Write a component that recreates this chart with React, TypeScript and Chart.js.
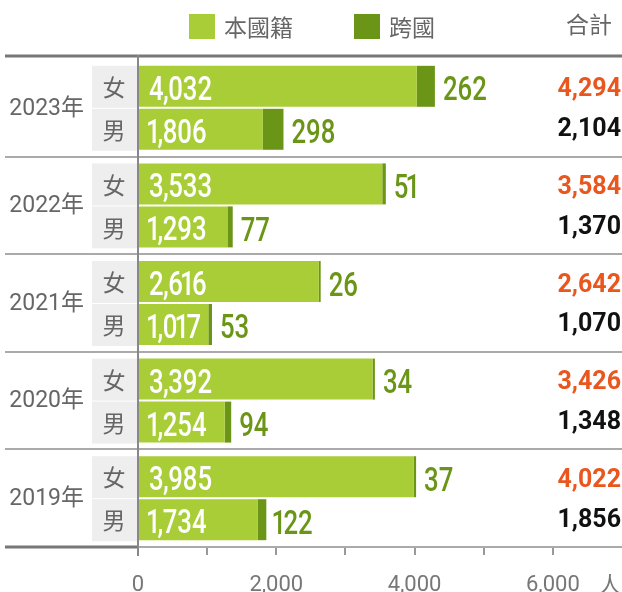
import React, { useEffect, useRef } from "react";
import { Chart, registerables } from "chart.js";

Chart.register(...registerables);

const years = ["2023年", "2022年", "2021年", "2020年", "2019年"];
const genders = ["女", "男"];
const femaleNative = [4032, 3533, 2616, 3392, 3985];
const femaleCross = [262, 51, 26, 34, 37];
const maleNative = [1806, 1293, 1017, 1254, 1734];
const maleCross = [298, 77, 53, 94, 122];
const seriesNames = ["本國籍", "跨國"];
const totalTitle = "合計";
const unitLabel = "人";
const xMax = 7000;
const xStep = 1000;
const xLabelStep = 2000;

const LIGHT = "#a8cd36";
const DARK = "#6a9516";
const ORANGE = "#e9561e";
const CJK = '"Noto Sans CJK TC", "Noto Sans CJK SC", sans-serif';

function fmt(v: number) {
  return v.toLocaleString("en-US");
}

// condensed label: horizontally squeezed, with a narrower "1" like a proportional condensed face
function condensed(ctx: CanvasRenderingContext2D, text: string, x: number, y: number, sx: number) {
  ctx.save();
  ctx.translate(x, y);
  ctx.scale(sx, 1);
  ctx.textAlign = "left";
  ctx.textBaseline = "alphabetic";
  let cx = 0;
  for (const ch of text) {
    const w = ctx.measureText(ch).width;
    if (ch === "1") {
      ctx.fillText(ch, cx - w * 0.2, 0);
      cx += w * 0.62;
    } else if (ch === ",") {
      ctx.fillText(ch, cx - w * 0.1, 0);
      cx += w * 0.8;
    } else {
      ctx.fillText(ch, cx, 0);
      cx += w;
    }
  }
  ctx.restore();
}

const decorPlugin = {
  id: "decor",
  beforeDatasetsDraw(chart: any) {
    const ctx: CanvasRenderingContext2D = chart.ctx;
    const { left, top, bottom } = chart.chartArea;
    const yScale = chart.scales.y;
    const W = chart.width;
    ctx.save();
    // legend
    ctx.fillStyle = LIGHT;
    ctx.fillRect(189, 14, 26, 25);
    ctx.fillStyle = DARK;
    ctx.fillRect(354, 14, 26, 25);
    ctx.fillStyle = "#666";
    ctx.font = `23px ${CJK}`;
    ctx.textBaseline = "middle";
    ctx.textAlign = "left";
    ctx.fillText(seriesNames[0], 224, 27);
    ctx.fillText(seriesNames[1], 389, 27);
    ctx.textAlign = "right";
    ctx.fillText(totalTitle, 612, 24);

    // separators
    ctx.strokeStyle = "#aaa";
    ctx.lineWidth = 2;
    for (let i = 1; i < years.length; i++) {
      const yy = Math.round((yScale.getPixelForValue(i - 1) + yScale.getPixelForValue(i)) / 2);
      ctx.beginPath();
      ctx.moveTo(5, yy);
      ctx.lineTo(W, yy);
      ctx.stroke();
    }
    ctx.beginPath();
    ctx.moveTo(left, bottom);
    ctx.lineTo(W, bottom);
    ctx.stroke();
    // thick lines
    ctx.strokeStyle = "#777";
    ctx.lineWidth = 3;
    ctx.beginPath();
    ctx.moveTo(5, top - 3);
    ctx.lineTo(W, top - 3);
    ctx.stroke();
    ctx.beginPath();
    ctx.moveTo(5, bottom);
    ctx.lineTo(left, bottom);
    ctx.stroke();

    // gender boxes
    [0, 2].forEach((di, gi) => {
      const meta = chart.getDatasetMeta(di);
      meta.data.forEach((el: any) => {
        const h = el.height;
        ctx.fillStyle = "#eeeeee";
        ctx.fillRect(92, el.y - h / 2, left - 92, h + 1);
        ctx.fillStyle = "#666";
        ctx.font = `23px ${CJK}`;
        ctx.textAlign = "center";
        ctx.textBaseline = "middle";
        ctx.fillText(genders[gi], 114, el.y + 1);
      });
    });

    // year labels
    ctx.fillStyle = "#666";
    ctx.font = `23px Roboto, ${CJK}`;
    ctx.textAlign = "right";
    ctx.textBaseline = "middle";
    years.forEach((yl, i) => {
      ctx.fillText(yl, 84, yScale.getPixelForValue(i) + 1);
    });
    ctx.restore();
  },
  afterDatasetsDraw(chart: any) {
    const ctx: CanvasRenderingContext2D = chart.ctx;
    const { top, bottom } = chart.chartArea;
    const xScale = chart.scales.x;
    ctx.save();
    // vertical axis line
    const x0 = Math.round(xScale.getPixelForValue(0));
    ctx.strokeStyle = "#888";
    ctx.lineWidth = 2;
    ctx.beginPath();
    ctx.moveTo(x0, top - 4);
    ctx.lineTo(x0, bottom + 9);
    ctx.stroke();

    const natives = [femaleNative, maleNative];
    const crosses = [femaleCross, maleCross];
    [0, 1].forEach((gi) => {
      const nMeta = chart.getDatasetMeta(gi * 2);
      const cMeta = chart.getDatasetMeta(gi * 2 + 1);
      nMeta.data.forEach((el: any, i: number) => {
        const y = el.y;
        ctx.font = "500 33px Roboto";
        ctx.fillStyle = "#fff";
        condensed(ctx, fmt(natives[gi][i]), el.base + 10, y + 13.5, 0.78);
        const cEl = cMeta.data[i];
        ctx.fillStyle = DARK;
        condensed(ctx, fmt(crosses[gi][i]), cEl.x + 8, y + 14, 0.78);
        const total = natives[gi][i] + crosses[gi][i];
        ctx.font = "bold 25px Roboto";
        ctx.fillStyle = gi === 0 ? ORANGE : "#111";
        ctx.textAlign = "right";
        ctx.textBaseline = "alphabetic";
        ctx.fillText(fmt(total), 621, gi === 0 ? y + 10 : y + 7);
      });
    });

    // unit
    ctx.fillStyle = "#777";
    ctx.font = `22px ${CJK}`;
    ctx.textAlign = "right";
    ctx.textBaseline = "middle";
    ctx.fillText(unitLabel, 621, bottom + 37);
    ctx.restore();
  },
};

export default function App() {
  const ref = useRef<HTMLCanvasElement | null>(null);
  useEffect(() => {
    document.body.style.margin = "0";
    const canvas = ref.current!;
    const chart = new Chart(canvas, {
      type: "bar",
      data: {
        labels: years,
        datasets: [
          { label: seriesNames[0], data: femaleNative, backgroundColor: LIGHT, stack: "f" },
          { label: seriesNames[1], data: femaleCross, backgroundColor: DARK, stack: "f" },
          { label: seriesNames[0], data: maleNative, backgroundColor: LIGHT, stack: "m" },
          { label: seriesNames[1], data: maleCross, backgroundColor: DARK, stack: "m" },
        ],
      },
      options: {
        indexAxis: "y",
        responsive: false,
        animation: false,
        devicePixelRatio: 1,
        datasets: { bar: { categoryPercentage: 0.881, barPercentage: 0.953 } },
        layout: { padding: { left: 138, top: 59, right: 0, bottom: 0 } },
        plugins: { legend: { display: false }, tooltip: { enabled: false } },
        scales: {
          y: { stacked: true, display: false },
          x: {
            stacked: true,
            min: 0,
            max: xMax,
            afterFit: (s: any) => {
              s.height = 45;
              s.paddingLeft = 0;
              s.paddingRight = 0;
            },
            border: { display: false },
            grid: {
              drawOnChartArea: false,
              drawTicks: true,
              tickLength: 8,
              lineWidth: 2,
              color: (c: any) => (c.tick && c.tick.value >= xMax ? "rgba(0,0,0,0)" : "#999"),
            },
            ticks: {
              stepSize: xStep,
              padding: 17,
              color: "#777",
              font: { family: "Roboto", size: 22 },
              maxRotation: 0,
              autoSkip: false,
              callback: (v: any) => (v % xLabelStep === 0 && v < xMax ? fmt(v) : ""),
            },
          },
        },
      },
      plugins: [decorPlugin],
    } as any);
    return () => chart.destroy();
  }, []);
  return (
    <div style={{ width: 622, height: 592 }}>
      <canvas ref={ref} width={622} height={592} style={{ display: "block" }} />
    </div>
  );
}
